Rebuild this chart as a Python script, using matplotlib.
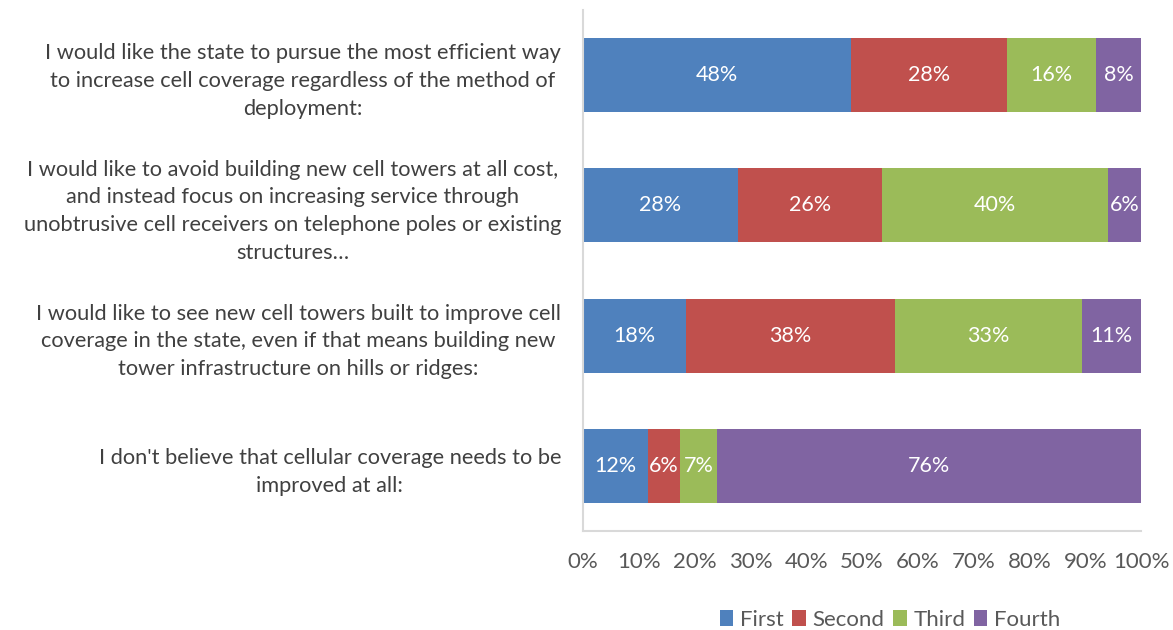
import matplotlib
matplotlib.use("Agg")
import matplotlib.pyplot as plt
import numpy as np

categories = [
    "I would like the state to pursue the most efficient way\nto increase cell coverage regardless of the method of\ndeployment:",
    "I would like to avoid building new cell towers at all cost,\nand instead focus on increasing service through\nunobtrusive cell receivers on telephone poles or existing\nstructures…",
    "I would like to see new cell towers built to improve cell\ncoverage in the state, even if that means building new\ntower infrastructure on hills or ridges:",
    "I don't believe that cellular coverage needs to be\nimproved at all:",
]
series_names = ["First", "Second", "Third", "Fourth"]
first = [48.0, 27.8, 18.4, 11.6]
second = [28.0, 25.8, 37.6, 5.7]
third = [15.9, 40.5, 33.4, 6.8]
fourth = [8.1, 5.9, 10.6, 75.9]
labels = [
    ["48%", "28%", "18%", "12%"],
    ["28%", "26%", "38%", "6%"],
    ["16%", "40%", "33%", "7%"],
    ["8%", "6%", "11%", "76%"],
]
xticks = [0, 10, 20, 30, 40, 50, 60, 70, 80, 90, 100]
colors = ["#4F81BD", "#C0504D", "#9BBB59", "#8064A2"]

plt.rcParams['font.family'] = ['Lato', 'DejaVu Sans']

fig = plt.figure(figsize=(11.73, 6.30), dpi=100)
ax = fig.add_axes([583/1173, 1-531/630, (1141-583)/1173, (531-10)/630])

y = np.arange(len(categories))
left = np.zeros(len(categories))
data = [first, second, third, fourth]
handles = []
for i, (vals, name, c) in enumerate(zip(data, series_names, colors)):
    vals = np.array(vals)
    b = ax.barh(y, vals, left=left, height=0.57, color=c, label=name, edgecolor='none')
    handles.append(b)
    for j in range(len(categories)):
        ax.text(left[j] + vals[j]/2, y[j], labels[i][j], ha='center', va='center',
                color='white', fontsize=15.5)
    left += vals

ax.set_xlim(0, 100)
ax.set_ylim(len(categories) - 0.5, -0.5)
ax.set_yticks(y)
ax.set_yticklabels(categories, fontsize=15.7, color='#404040', linespacing=1.48)
for lab in ax.get_yticklabels():
    lab.set_multialignment('center')
ax.tick_params(axis='y', length=0, pad=15.8)
ax.set_xticks(xticks)
ax.set_xticklabels([f"{t}%" for t in xticks], fontsize=16, color='#595959')
ax.tick_params(axis='x', length=0, pad=15)
for s in ['top', 'right']:
    ax.spines[s].set_visible(False)
ax.spines['left'].set_color('#D9D9D9')
ax.spines['bottom'].set_color('#D9D9D9')
ax.spines['left'].set_linewidth(1.5)
ax.spines['bottom'].set_linewidth(1.5)

fig.legend(handles=handles, loc='center', bbox_to_anchor=(890/1173, 1-620/630),
           ncol=4, frameon=False, fontsize=16, handlelength=0.6, handleheight=0.7,
           handletextpad=0.3, columnspacing=0.4, labelcolor='#595959')

fig.savefig("out.png", dpi=100)
